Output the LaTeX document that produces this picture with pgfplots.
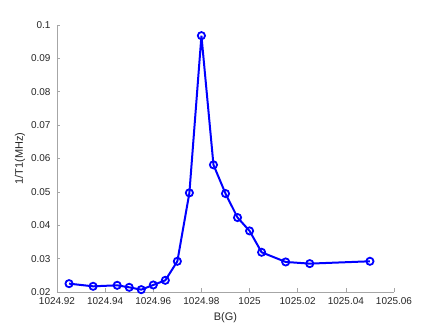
\documentclass[border=0pt]{standalone}
\usepackage{fontspec}
\setmainfont{Liberation Sans}
\usepackage{pgfplots}
\pgfplotsset{compat=1.18}
\definecolor{axgray}{gray}{0.15}
\begin{document}
\begin{tikzpicture}
\begin{axis}[
  scale only axis,
  width=337bp, height=267bp,
  xmin=1024.92, xmax=1025.06,
  ymin=0.02, ymax=0.1,
  xtick={1024.92,1024.94,1024.96,1024.98,1025,1025.02,1025.04,1025.06},
  ytick={0.02,0.03,0.04,0.05,0.06,0.07,0.08,0.09,0.1},
  scaled ticks=false,
  xticklabel style={yshift=-2.5bp, /pgf/number format/.cd, fixed, precision=2, 1000 sep={}},
  yticklabel style={xshift=-3bp, /pgf/number format/.cd, fixed, precision=2},
  /pgf/number format/assume math mode=true,
  axis x line*=bottom, axis y line*=left,
  axis line style={gray!70, line width=0.6pt},
  tick style={gray!70, line width=0.6pt},
  tick align=inside,
  major tick length=3.5bp,
  tick label style={font=\fontsize{10}{12}\selectfont, text=axgray},
  label style={font=\fontsize{11}{13}\selectfont, text=axgray},
  xlabel={B(G)},
  ylabel={1/T1(MHz)},
  xlabel style={yshift=-1bp},
  ylabel style={yshift=-1bp},
]
\addplot[blue, line width=2bp, mark=o, mark size=3.6bp,
  mark options={line width=1.8bp}] coordinates {
  (1024.925,0.0225) (1024.935,0.0217) (1024.945,0.0220) (1024.950,0.0214)
  (1024.955,0.0207) (1024.960,0.0221) (1024.965,0.0235) (1024.970,0.0292)
  (1024.975,0.0497) (1024.980,0.0968) (1024.985,0.0581) (1024.990,0.0495)
  (1024.995,0.0423) (1025.000,0.0383) (1025.005,0.0319) (1025.015,0.0290)
  (1025.025,0.0285) (1025.050,0.0292)
};
\end{axis}
\path (current axis.south west) ++(-57bp,-35bp) (current axis.north east) ++(42bp,25bp);
\end{tikzpicture}
\end{document}
